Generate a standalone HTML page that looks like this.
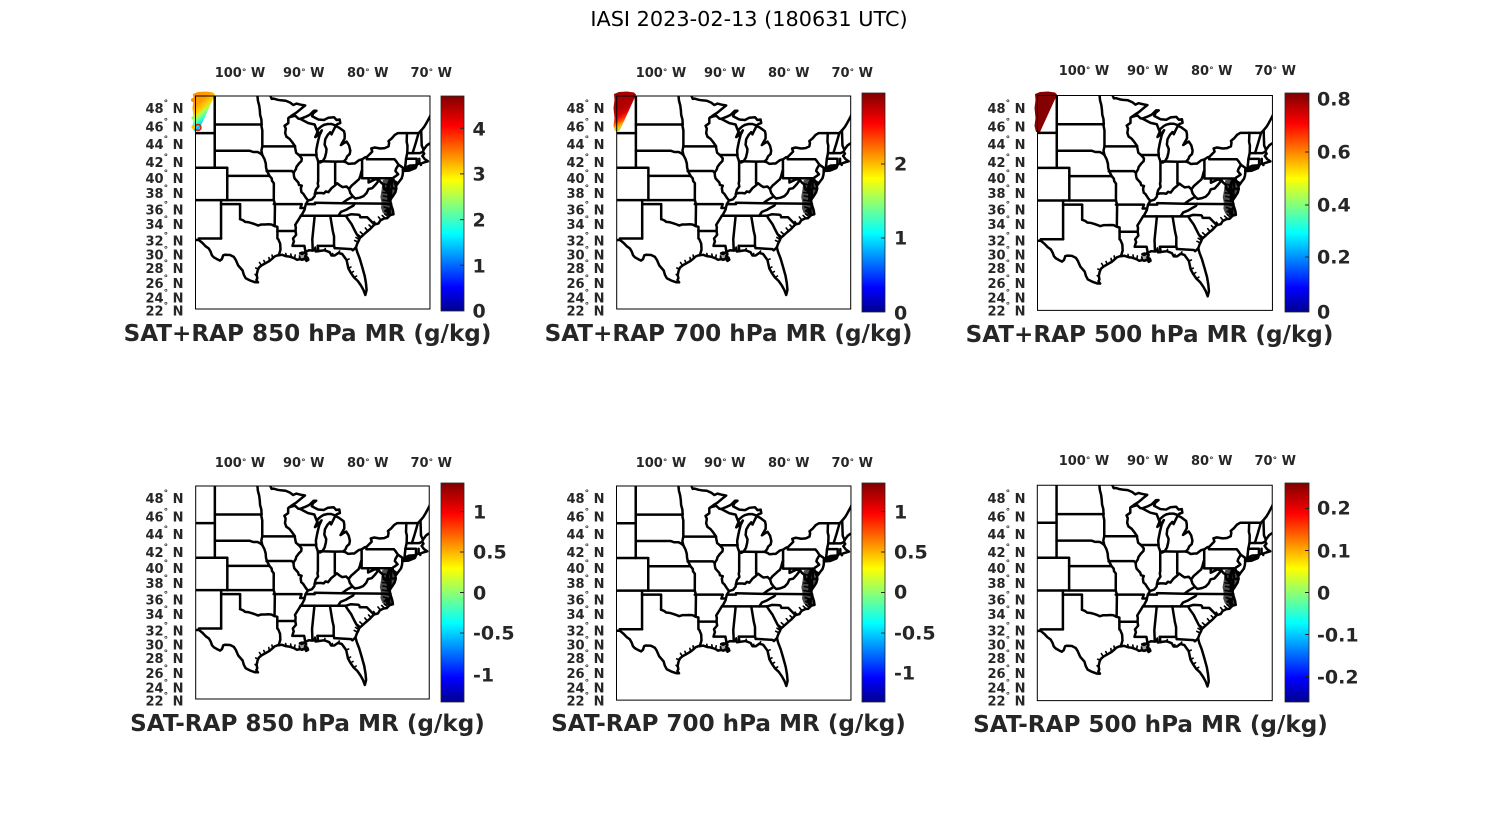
<!DOCTYPE html>
<html>
<head>
<meta charset="utf-8">
<style>
html,body{margin:0;padding:0;background:#fff;width:1500px;height:825px;overflow:hidden;}
svg{display:block;}
.t{font-family:"DejaVu Sans","Liberation Sans",sans-serif;font-weight:bold;font-size:13px;fill:#262626;}
.cb{font-family:"DejaVu Sans","Liberation Sans",sans-serif;font-weight:bold;font-size:19px;fill:#262626;}
.ttl{font-family:"DejaVu Sans","Liberation Sans",sans-serif;font-weight:bold;font-size:23.1px;fill:#262626;}
.main{font-family:"DejaVu Sans","Liberation Sans",sans-serif;font-size:20.8px;fill:#000;}
</style>
</head>
<body>
<svg width="1500" height="825" viewBox="0 0 1500 825" xmlns="http://www.w3.org/2000/svg" xmlns:xlink="http://www.w3.org/1999/xlink">
<defs>
<linearGradient id="jet" x1="0" y1="1" x2="0" y2="0">
<stop offset="0" stop-color="#00008f"/>
<stop offset="0.11" stop-color="#0000ff"/>
<stop offset="0.36" stop-color="#00ffff"/>
<stop offset="0.61" stop-color="#ffff00"/>
<stop offset="0.86" stop-color="#ff0000"/>
<stop offset="1" stop-color="#800000"/>
</linearGradient>
<linearGradient id="g1" x1="0" y1="0" x2="0.5" y2="1">
<stop offset="0" stop-color="#ff8c00"/>
<stop offset="0.35" stop-color="#ffa000"/>
<stop offset="0.5" stop-color="#ffd000"/>
<stop offset="0.6" stop-color="#b0ff50"/>
<stop offset="0.72" stop-color="#30ffd0"/>
<stop offset="0.84" stop-color="#00c8ff"/>
<stop offset="0.93" stop-color="#3080ff"/>
<stop offset="1" stop-color="#ffb000"/>
</linearGradient>
<linearGradient id="g2" x1="0" y1="0" x2="0.3" y2="1">
<stop offset="0" stop-color="#a00000"/>
<stop offset="0.45" stop-color="#b00000"/>
<stop offset="0.62" stop-color="#d80000"/>
<stop offset="0.74" stop-color="#ff3000"/>
<stop offset="0.86" stop-color="#ffb000"/>
<stop offset="1" stop-color="#a0ff40"/>
</linearGradient>
<clipPath id="mc"><rect x="0" y="0" width="234" height="213"/></clipPath>
<g id="map">
<g clip-path="url(#mc)">
<g transform="translate(669.5,0) scale(6.25,1)" fill="none" stroke="#000" stroke-width="2.5" stroke-linejoin="round" stroke-linecap="round">
<polygon vector-effect="non-scaling-stroke" stroke="none" fill="#000" fill-opacity="0.7" points="-77.2,84 -76.1,82.8 -75.5,86 -75.2,92 -75.5,99 -75.8,104 -76.0,108 -75.9,112 -75.6,114 -75.4,117.5 -76.2,120 -77.2,117 -77.5,112 -77.4,107 -77.6,101 -77.4,94 -77.3,88"/>
<polygon vector-effect="non-scaling-stroke" stroke="none" fill="#000" fill-opacity="0.35" points="-90.6,158 -89.8,155.5 -89.1,160 -89.2,165 -90,165 -90.8,164"/>
<path vector-effect="non-scaling-stroke" stroke-width="1.6" d="M-81.2,146L-81.7,144.5M-81,143.5L-81.5,141.5M-80.7,141L-81.2,138.5M-80.3,138.8L-80.8,136M-79.6,135L-80,132M-79,131.5L-79.4,129M-78.3,128.2L-78.6,125.5M-77.5,124L-77.9,121M-76.8,122.3L-77.3,119.5M-76.3,121L-76.9,118M-76,117L-76.9,115M-76,113L-77,111M-76.1,109L-77,108M-76.3,105L-77.2,104M-76.3,101L-77.1,100M-76.4,97L-77.2,96.5M-76.5,93L-77.1,91.5M-76.4,89L-76.9,88M-96.6,169.5L-96.9,166.5M-96,167.4L-96.2,164.5M-95.3,164.9L-95.4,161.5M-94.8,162.3L-94.9,159M-92.6,160.3L-92.7,157.5M-91.8,161.2L-91.9,158M-91.3,162.3L-91.2,159M-90.4,163.1L-90.5,160M-83,164L-82.6,163M-82.7,172.5L-82.3,171M-82.3,177L-81.9,175.5M-81.8,181.5L-81.4,180M-88.1,154.3L-88,151M-86.5,154.3L-86.4,152.5M-85.4,159.5L-85.2,157.5M-84.3,156.9L-84.1,155M-97.3,180L-97.6,178.5M-97.1,173L-97.5,172"/>
<polyline vector-effect="non-scaling-stroke" points="-104.05,0 -104.05,71.7"/>
<polyline vector-effect="non-scaling-stroke" points="-107.3,37.1 -104.05,37.1"/>
<polyline vector-effect="non-scaling-stroke" points="-107.3,71.7 -102.05,71.7 -102.05,104.1"/>
<polyline vector-effect="non-scaling-stroke" points="-102.05,79.9 -95.31,79.9"/>
<polyline vector-effect="non-scaling-stroke" points="-107.3,104.1 -94.62,104.1"/>
<polyline vector-effect="non-scaling-stroke" points="-103.04,104.1 -103.04,142.5"/>
<polyline vector-effect="non-scaling-stroke" points="-103.04,108.1 -100,108.1 -100,123.1"/>
<polyline vector-effect="non-scaling-stroke" points="-100,123.1 -99.5,124.4 -99.2,125.9 -98.6,126.3 -98,127.4 -97.5,128.5 -97.15,129.5 -96.6,128.5 -96,128.5 -95.5,128.3 -95,128.5 -94.48,130.1"/>
<polyline vector-effect="non-scaling-stroke" points="-94.62,104.1 -94.43,108.1 -94.48,130.1 -94.04,130.8 -94.04,142.5 -93.9,143.2 -93.6,147.7 -93.55,153.6 -93.7,156.9 -93.85,159.3"/>
<polyline vector-effect="non-scaling-stroke" points="-94.04,135 -91.15,135"/>
<polyline vector-effect="non-scaling-stroke" points="-107.3,144 -106.55,144 -106.6,142.5 -103.04,142.5"/>
<polyline vector-effect="non-scaling-stroke" points="-106.55,144.2 -106,147 -105.5,150.3 -105,152.5 -104.7,155.8 -104.5,159.3 -104.2,161.3 -103.7,163.1 -103.2,164.6 -102.9,163 -102.7,159.3 -102.4,158.7 -101.6,159 -101,160.9 -100.7,163.8 -100.3,169.5 -99.6,174.5 -99.4,178.8 -99.1,182.3 -98.4,184.5 -97.6,186.3 -97.15,186.3"/>
<polyline vector-effect="non-scaling-stroke" points="-97.15,186.3 -97.4,184 -97.25,182.3 -97.35,178.8 -97.2,174.5 -97,171.7 -96.6,169.5 -96,167.4 -95.3,164.9 -94.8,162.3 -94.5,160.5 -94,159.3 -93.85,159.3"/>
<polyline vector-effect="non-scaling-stroke" points="-93.85,159.3 -93.3,158.8 -92.6,160.3 -92.2,160.5 -91.8,161.2 -91.3,162.3 -90.9,163.8 -90.4,163.1 -90.1,163.8 -89.6,162.3 -89.4,164.9 -89.1,163.8 -89.2,162 -89.6,160.2 -89.4,158 -89.7,156.2 -89.55,156"/>
<polyline vector-effect="non-scaling-stroke" points="-90.4,157.3 -90.1,156.6 -89.8,157 -90.1,158 -90.4,157.3"/>
<polyline vector-effect="non-scaling-stroke" points="-89.55,156 -89.73,149.9 -91.63,149.9 -91.5,147 -91.4,145.5 -91.55,142.5 -91.05,138.8 -91.15,135"/>
<polyline vector-effect="non-scaling-stroke" points="-91.15,135 -91.1,131.2 -91.2,128.9 -90.9,125.9 -90.6,122.9 -90.3,119.8 -90.1,118.3 -89.7,113.6 -89.65,112 -89.5,108.1 -89.15,104.5 -89.5,101.7 -89.9,97.8 -90.2,96.2 -90.3,92.2 -90.15,89.7 -90.6,88.9 -90.7,86.5 -91.3,82.4 -91.4,79.9 -91.45,76.6 -91.1,73.3 -91,70.9 -90.6,67.5 -90.2,65 -90.15,62.4 -90.6,59 -91.05,56.8 -91.2,52.1 -91.25,50 -91.7,46 -92.1,42.9 -92.6,40.7 -92.8,37.1 -92.7,32.6 -92.9,29.8 -92.3,27.1 -92.3,22.1 -92.1,21.2"/>
<polyline vector-effect="non-scaling-stroke" points="-97.23,0 -97.15,4.75 -96.95,9.5 -96.85,14.2 -96.8,18.9 -96.6,23.5 -96.56,28.5 -96.6,29.8 -96.45,34.4 -96.45,50.4 -96.6,54.7 -96.45,59 -96.1,63.2 -95.9,67.5 -95.85,71.7 -95.7,75 -95.3,79.9 -94.95,82.4 -94.9,84.9 -94.61,87.3 -94.62,104.1"/>
<polyline vector-effect="non-scaling-stroke" points="-104.05,54.7 -98.5,54.7 -97.9,56 -97.2,56 -96.8,57.3 -96.45,59"/>
<polyline vector-effect="non-scaling-stroke" points="-104.05,28.5 -96.56,28.5"/>
<polyline vector-effect="non-scaling-stroke" points="-96.45,50.4 -91.22,50.4"/>
<polyline vector-effect="non-scaling-stroke" points="-95.77,75 -91.73,75 -91.42,76.8"/>
<polyline vector-effect="non-scaling-stroke" points="-90.64,59 -87.8,59"/>
<polyline vector-effect="non-scaling-stroke" points="-87.53,65.3 -87.53,85.3 -87.6,87.3 -87.5,90.5 -87.9,93.8 -88.05,97.8"/>
<polyline vector-effect="non-scaling-stroke" points="-89.15,104.5 -88.5,103.3 -88.1,100.2 -88.05,97.8 -87.6,97 -87,97 -86.6,97.4 -86.3,95.4 -85.9,96.2 -85.4,92.2 -84.9,89.7 -84.5,87.3 -84,89.7 -83.65,91.1 -83,90.5 -82.6,93 -82.2,89.7 -81.75,87.3 -81.4,85.3 -81,83.2 -80.8,79.9 -80.6,75 -80.52,74.7"/>
<polyline vector-effect="non-scaling-stroke" points="-84.82,65.75 -84.82,87.3"/>
<polyline vector-effect="non-scaling-stroke" points="-87.2,65.3 -84.82,65.6 -83.45,65.5"/>
<polyline vector-effect="non-scaling-stroke" points="-86.82,65.3 -87.2,66.5 -87.53,65.75 -87.6,64.1 -87.8,60.7 -87.8,59 -87.85,54.7 -87.7,49.5 -87.55,45.1 -87.3,38.9 -86.95,34.4 -87.4,38 -87.9,40.7 -88,41.1 -87.65,36.2 -87.6,33.5 -87,30.3 -86.6,28.9 -86,28 -85.4,28 -84.75,29.4 -84.4,28"/>
<polyline vector-effect="non-scaling-stroke" points="-86.82,65.3 -86.45,61.5 -86.25,56.4 -86.2,53 -86.5,48.6 -86.4,43.3 -86,38.9 -85.6,36.2 -85.4,38.4 -85.1,34.4 -84.75,30 -84.2,31.6 -83.4,35.3 -83.3,38.4 -83.3,42.5 -83.9,49.1 -83.4,47 -83,45.6 -82.6,49.5 -82.4,54.7 -82.5,58.1 -82.9,60.3 -83.1,63.2 -83.45,65.5"/>
<polyline vector-effect="non-scaling-stroke" points="-92.1,21.2 -91.2,19.7 -90.7,22.6 -90.4,22.9 -89.5,20.7 -88.9,18.9 -88.2,14.7 -87.8,14.7 -88.3,17.1 -88.5,20.3 -87.5,23.5 -86.6,24 -85.9,21.7 -85,21.2 -84.6,24 -84.1,23.5 -84,27.1 -84.4,28"/>
<polyline vector-effect="non-scaling-stroke" points="-90.4,22.9 -89.1,27.1 -88.1,28.5 -87.8,33.5 -87.6,36.2"/>
<polyline vector-effect="non-scaling-stroke" points="-95.15,0 -94.95,2.85 -94.6,2.66 -94,3.8 -93.5,4.3 -92.7,4.75 -92,6.65 -91.5,9 -91,7.6 -90.4,8.55 -89.6,9.5 -90,11.4 -91,16.6 -91.6,18.9 -92.1,21.2"/>
<polyline vector-effect="non-scaling-stroke" points="-83.45,65.5 -83,66.6 -82.7,67.9 -82,67.5 -81.7,67.5 -81,64.1 -80.52,63.4 -80,61.2 -79.76,61 -78.9,55.6 -79.05,52.5 -78.5,51.5 -77.6,52.5 -76.9,52.1 -76.3,50.4 -76.2,46.9 -76.3,45.1 -75.8,42.5 -75.3,38.9 -74.8,37.1 -71.5,37.1 -71.08,34.4 -70.6,30.8 -70.25,27.1 -69.7,20.7 -69.3,15"/>
<polyline vector-effect="non-scaling-stroke" points="-80.52,63.4 -80.52,82.2 -75.79,82.2"/>
<polyline vector-effect="non-scaling-stroke" points="-79.76,61 -79.76,63.2 -75.36,63.2"/>
<polyline vector-effect="non-scaling-stroke" points="-75.36,63.2 -75.1,65 -74.7,68.7 -75.1,72.9 -75.2,75 -74.75,78.3 -75.1,79.9 -75.5,81.5 -75.56,83.2"/>
<polyline vector-effect="non-scaling-stroke" points="-74.7,68.7 -74,71.7 -74,74.2 -74,76.2 -74.05,79.1 -74.2,82.4 -74.6,85.6 -74.95,88.7 -74.9,86.9 -75.4,84.9 -75.56,83.2"/>
<polyline vector-effect="non-scaling-stroke" points="-73.65,71.7 -73.5,62.8 -73.3,56.8 -73.27,49.5 -73.4,46 -73.35,37.1"/>
<polyline vector-effect="non-scaling-stroke" points="-74,75 -73,74.6 -72,72.1 -71.9,71.1 -72.6,71.8 -73.7,72.9 -74,74.2"/>
<polyline vector-effect="non-scaling-stroke" points="-73.3,57.1 -71.3,57.1 -70.8,55.8"/>
<polyline vector-effect="non-scaling-stroke" points="-73.5,62.8 -71.8,62.8 -71.8,69.6"/>
<polyline vector-effect="non-scaling-stroke" points="-71.38,62.8 -71.38,66.5 -71.12,68.9"/>
<polyline vector-effect="non-scaling-stroke" points="-72.45,57.1 -72.3,54 -72,48 -71.5,37.1"/>
<polyline vector-effect="non-scaling-stroke" points="-70.7,53.8 -71,49.5 -71.08,34.4"/>
<polyline vector-effect="non-scaling-stroke" points="-73.65,71.7 -72.9,69.6 -72,69.2 -71.4,67.5 -71.1,67.5 -70.7,66.6 -70,65.3 -70.5,63.2 -70.9,59.9 -70.6,57.7 -70.8,55.8 -70.7,53.8 -70.2,49.5 -69.8,47.7 -69.3,47"/>
<polyline vector-effect="non-scaling-stroke" points="-75.79,82.2 -75.79,92.5 -75.05,92.5"/>
<polyline vector-effect="non-scaling-stroke" points="-75.56,83.2 -75.4,85.6 -75.1,89.7 -75.05,92.5 -75.2,96.2 -75.6,100.2 -75.95,103.3"/>
<polyline vector-effect="non-scaling-stroke" points="-76,104.7 -76.3,104.1 -76.3,100.2 -76.3,96.2 -76.5,93 -76.4,88.9 -76.2,85.6 -76,83.6 -76.2,88.1 -76.3,92.2 -75.9,94.6 -75.9,98.6 -75.95,103.3"/>
<polyline vector-effect="non-scaling-stroke" points="-79.48,82.2 -79.48,86.5 -78.4,83.2 -77.8,84.1 -77.5,86.5 -77.1,88.5 -77,93 -76.3,96.2"/>
<polyline vector-effect="non-scaling-stroke" points="-77.8,84.1 -78.3,88.1 -78.9,92.2 -79.5,93 -79.8,97 -80.3,100.2 -80.9,101.7 -81.6,102.5 -82,100.4"/>
<polyline vector-effect="non-scaling-stroke" points="-82.6,93 -82.4,97 -82,100.4"/>
<polyline vector-effect="non-scaling-stroke" points="-82,100.4 -83,104.1 -83.68,107.3"/>
<polyline vector-effect="non-scaling-stroke" points="-75.87,107.7 -81.68,107.4 -83.68,107.3 -88.05,106.7 -88.05,108.1 -89.5,108.1"/>
<polyline vector-effect="non-scaling-stroke" points="-94.62,108.1 -90.15,108.1 -90.37,112 -89.7,112"/>
<polyline vector-effect="non-scaling-stroke" points="-90.3,119.8 -83.1,119.8"/>
<polyline vector-effect="non-scaling-stroke" points="-84.32,119.8 -83.9,115.9 -83.1,113.9 -82.6,112 -81.9,109.6 -81.68,107.4"/>
<polyline vector-effect="non-scaling-stroke" points="-83.1,119.8 -82.3,118.3 -81.05,118.7 -80.9,119.4 -80.8,121.3 -79.7,121.3 -78.55,128.5"/>
<polyline vector-effect="non-scaling-stroke" points="-83.1,119.8 -82.8,122.9 -82.2,128.1 -81.9,131.9 -81.4,138 -80.9,142.1"/>
<polyline vector-effect="non-scaling-stroke" points="-85.6,119.8 -85.2,135 -85,140.3 -85,149.9 -84.9,152.1"/>
<polyline vector-effect="non-scaling-stroke" points="-84.9,152.1 -82.2,153.1 -82,154.3 -81.5,151.4"/>
<polyline vector-effect="non-scaling-stroke" points="-88.2,119.8 -88.1,120.6 -88.47,143.2 -88.4,154.3"/>
<polyline vector-effect="non-scaling-stroke" points="-87.6,149.9 -85,149.9"/>
<polyline vector-effect="non-scaling-stroke" points="-87.6,149.9 -87.5,155.1"/>
<polyline vector-effect="non-scaling-stroke" points="-89.55,156 -89,154.3 -88.4,154.6 -88.1,154.3 -88,152.1 -87.9,155.5 -87.5,155.1 -86.5,154.3 -85.7,156.2 -85.4,159.5 -84.9,159.5 -84.3,156.9 -83.7,158 -83,164 -82.7,172.5 -82.3,177 -81.8,181.5 -81.2,185 -80.7,189.5 -80.3,194 -80,199 -79.8,194 -79.9,187.3 -80.1,180 -80.5,171 -80.9,162.5 -81.3,156 -81.5,151.4"/>
<polyline vector-effect="non-scaling-stroke" points="-81.5,151.4 -81.3,147.7 -81,144 -80.9,142.1 -80.5,139.9 -79.9,136.5 -79.2,132.8 -78.55,128.5 -77.9,127.4 -77.6,124.4 -77,122.5 -76.5,122.1 -76,119 -75.5,118.3 -75.6,114.3 -75.8,110.4 -75.95,107.7 -76,104.7"/>
<polyline vector-effect="non-scaling-stroke" points="-76,119 -76.4,117.5 -76.1,115 -76.6,114 -76,112.5 -75.9,110.5"/>
</g>
</g>
<rect x="0" y="0" width="234" height="213" fill="none" stroke="#000" stroke-width="1" vector-effect="non-scaling-stroke"/>
</g>
</defs>

<text class="main" x="749" y="26" text-anchor="middle">IASI 2023-02-13 (180631 UTC)</text>

<!-- data overlays -->
<polygon points="193,94 198,92 206,91.5 213,92.5 215,94.5 214,97 198.5,131 194,131 192.5,126 193.5,118 192.5,108 193.5,100" fill="url(#g1)"/>
<circle cx="198" cy="127.5" r="3" fill="none" stroke="#e02000" stroke-width="1.5"/>
<circle cx="193.5" cy="127" r="2" fill="#ffc000"/>
<circle cx="193" cy="100" r="2" fill="#ff9000"/>
<circle cx="193" cy="118" r="1.5" fill="#80ff60"/>
<polygon points="614,94 619,92 627,91.5 634,92.5 636,94.5 635,97 619.5,131 615,131 613.5,126 614.5,118 613.5,108 614.5,100" fill="url(#g2)"/>
<polygon points="1035,94 1040,92 1048,91.5 1055,92.5 1057,94.5 1056,97 1040,132 1036,132 1034.5,126 1035.5,118 1034.5,108 1035.5,100" fill="#850000"/>

<!-- maps -->
<use xlink:href="#map" href="#map" transform="translate(195.5,96) scale(1.002,1)"/>
<use xlink:href="#map" href="#map" transform="translate(616.7,96) scale(1,1)"/>
<use xlink:href="#map" href="#map" transform="translate(1037.5,95.5) scale(1.004,1.009)"/>
<use xlink:href="#map" href="#map" transform="translate(195.7,486) scale(0.998,1)"/>
<use xlink:href="#map" href="#map" transform="translate(616.5,486) scale(1.002,1.005)"/>
<use xlink:href="#map" href="#map" transform="translate(1037.3,485.3) scale(1.004,1.011)"/>

<!-- colorbars -->
<g stroke="#262626" stroke-width="0.8">
<rect x="441" y="96" width="23" height="215" fill="url(#jet)"/>
<rect x="862" y="93" width="23" height="219" fill="url(#jet)"/>
<rect x="1285" y="93" width="24" height="219" fill="url(#jet)"/>
<rect x="441" y="483" width="23" height="219" fill="url(#jet)"/>
<rect x="862" y="483" width="23" height="219" fill="url(#jet)"/>
<rect x="1285" y="483" width="24" height="219" fill="url(#jet)"/>
</g>
<g stroke="#262626" stroke-width="1">
<path d="M460,128.2H464M460,173.9H464M460,219.6H464M460,265.3H464"/>
<path d="M881,164H885M881,238H885"/>
<path d="M1305,257H1309M1305,205H1309M1305,152H1309M1305,99H1309"/>
<path d="M460,511.5H464M460,552H464M460,592.5H464M460,633H464M460,673.5H464"/>
<path d="M881,511.5H885M881,552H885M881,592.5H885M881,633H885M881,673.5H885"/>
<path d="M1305,508.5H1309M1305,550.5H1309M1305,592.5H1309M1305,634.5H1309M1305,676.5H1309"/>
</g>

<!-- colorbar labels -->
<text class="cb" x="472.5" y="135.5">4</text>
<text class="cb" x="472.5" y="180.5">3</text>
<text class="cb" x="472.5" y="226.5">2</text>
<text class="cb" x="472.5" y="272.5">1</text>
<text class="cb" x="472.5" y="317.5">0</text>

<text class="cb" x="894" y="170.5">2</text>
<text class="cb" x="894" y="244.5">1</text>
<text class="cb" x="894" y="319.5">0</text>

<text class="cb" x="1317" y="105.5">0.8</text>
<text class="cb" x="1317" y="158.5">0.6</text>
<text class="cb" x="1317" y="211.5">0.4</text>
<text class="cb" x="1317" y="263.5">0.2</text>
<text class="cb" x="1317" y="318.5">0</text>

<text class="cb" x="473" y="518.5">1</text>
<text class="cb" x="473" y="558.5">0.5</text>
<text class="cb" x="473" y="599.5">0</text>
<text class="cb" x="473" y="639.5">-0.5</text>
<text class="cb" x="473" y="681.5">-1</text>

<text class="cb" x="894" y="518.5">1</text>
<text class="cb" x="894" y="558.5">0.5</text>
<text class="cb" x="894" y="598.5">0</text>
<text class="cb" x="894" y="639.5">-0.5</text>
<text class="cb" x="894" y="679.5">-1</text>

<text class="cb" x="1317" y="514.5">0.2</text>
<text class="cb" x="1317" y="557.5">0.1</text>
<text class="cb" x="1317" y="599.5">0</text>
<text class="cb" x="1317" y="641.5">-0.1</text>
<text class="cb" x="1317" y="683.5">-0.2</text>

<!-- panel titles -->
<text class="ttl" x="307.5" y="341" text-anchor="middle">SAT+RAP 850 hPa MR (g/kg)</text>
<text class="ttl" x="728.5" y="341" text-anchor="middle">SAT+RAP 700 hPa MR (g/kg)</text>
<text class="ttl" x="1149.5" y="342" text-anchor="middle">SAT+RAP 500 hPa MR (g/kg)</text>
<text class="ttl" x="307.5" y="731" text-anchor="middle">SAT-RAP 850 hPa MR (g/kg)</text>
<text class="ttl" x="728.5" y="731" text-anchor="middle">SAT-RAP 700 hPa MR (g/kg)</text>
<text class="ttl" x="1150.5" y="732" text-anchor="middle">SAT-RAP 500 hPa MR (g/kg)</text>

<!-- top longitude labels -->
<text class="t" x="214.7" y="77">100<tspan dy="-2" font-size="9">°</tspan><tspan dy="2"> W</tspan></text>
<text class="t" x="283" y="77">90<tspan dy="-2" font-size="9">°</tspan><tspan dy="2"> W</tspan></text>
<text class="t" x="347" y="77">80<tspan dy="-2" font-size="9">°</tspan><tspan dy="2"> W</tspan></text>
<text class="t" x="410.5" y="77">70<tspan dy="-2" font-size="9">°</tspan><tspan dy="2"> W</tspan></text>

<text class="t" x="635.7" y="77">100<tspan dy="-2" font-size="9">°</tspan><tspan dy="2"> W</tspan></text>
<text class="t" x="704" y="77">90<tspan dy="-2" font-size="9">°</tspan><tspan dy="2"> W</tspan></text>
<text class="t" x="768" y="77">80<tspan dy="-2" font-size="9">°</tspan><tspan dy="2"> W</tspan></text>
<text class="t" x="831.5" y="77">70<tspan dy="-2" font-size="9">°</tspan><tspan dy="2"> W</tspan></text>

<text class="t" x="1058.7" y="75">100<tspan dy="-2" font-size="9">°</tspan><tspan dy="2"> W</tspan></text>
<text class="t" x="1127" y="75">90<tspan dy="-2" font-size="9">°</tspan><tspan dy="2"> W</tspan></text>
<text class="t" x="1191" y="75">80<tspan dy="-2" font-size="9">°</tspan><tspan dy="2"> W</tspan></text>
<text class="t" x="1254.5" y="75">70<tspan dy="-2" font-size="9">°</tspan><tspan dy="2"> W</tspan></text>

<text class="t" x="214.7" y="467">100<tspan dy="-2" font-size="9">°</tspan><tspan dy="2"> W</tspan></text>
<text class="t" x="283" y="467">90<tspan dy="-2" font-size="9">°</tspan><tspan dy="2"> W</tspan></text>
<text class="t" x="347" y="467">80<tspan dy="-2" font-size="9">°</tspan><tspan dy="2"> W</tspan></text>
<text class="t" x="410.5" y="467">70<tspan dy="-2" font-size="9">°</tspan><tspan dy="2"> W</tspan></text>

<text class="t" x="635.7" y="467">100<tspan dy="-2" font-size="9">°</tspan><tspan dy="2"> W</tspan></text>
<text class="t" x="704" y="467">90<tspan dy="-2" font-size="9">°</tspan><tspan dy="2"> W</tspan></text>
<text class="t" x="768" y="467">80<tspan dy="-2" font-size="9">°</tspan><tspan dy="2"> W</tspan></text>
<text class="t" x="831.5" y="467">70<tspan dy="-2" font-size="9">°</tspan><tspan dy="2"> W</tspan></text>

<text class="t" x="1058.7" y="465">100<tspan dy="-2" font-size="9">°</tspan><tspan dy="2"> W</tspan></text>
<text class="t" x="1127" y="465">90<tspan dy="-2" font-size="9">°</tspan><tspan dy="2"> W</tspan></text>
<text class="t" x="1191" y="465">80<tspan dy="-2" font-size="9">°</tspan><tspan dy="2"> W</tspan></text>
<text class="t" x="1254.5" y="465">70<tspan dy="-2" font-size="9">°</tspan><tspan dy="2"> W</tspan></text>

<!-- left latitude labels: panel 1 -->
<text class="t" x="145.5" y="113">48<tspan dy="-7" font-size="9">°</tspan><tspan dy="7"> N</tspan></text>
<text class="t" x="145.5" y="131.4">46<tspan dy="-7" font-size="9">°</tspan><tspan dy="7"> N</tspan></text>
<text class="t" x="145.5" y="149">44<tspan dy="-7" font-size="9">°</tspan><tspan dy="7"> N</tspan></text>
<text class="t" x="145.5" y="167">42<tspan dy="-7" font-size="9">°</tspan><tspan dy="7"> N</tspan></text>
<text class="t" x="145.5" y="183">40<tspan dy="-7" font-size="9">°</tspan><tspan dy="7"> N</tspan></text>
<text class="t" x="145.5" y="198">38<tspan dy="-7" font-size="9">°</tspan><tspan dy="7"> N</tspan></text>
<text class="t" x="145.5" y="214.7">36<tspan dy="-7" font-size="9">°</tspan><tspan dy="7"> N</tspan></text>
<text class="t" x="145.5" y="229">34<tspan dy="-7" font-size="9">°</tspan><tspan dy="7"> N</tspan></text>
<text class="t" x="145.5" y="245.7">32<tspan dy="-7" font-size="9">°</tspan><tspan dy="7"> N</tspan></text>
<text class="t" x="145.5" y="259.7">30<tspan dy="-7" font-size="9">°</tspan><tspan dy="7"> N</tspan></text>
<text class="t" x="145.5" y="273">28<tspan dy="-7" font-size="9">°</tspan><tspan dy="7"> N</tspan></text>
<text class="t" x="145.5" y="288">26<tspan dy="-7" font-size="9">°</tspan><tspan dy="7"> N</tspan></text>
<text class="t" x="145.5" y="302.4">24<tspan dy="-7" font-size="9">°</tspan><tspan dy="7"> N</tspan></text>
<text class="t" x="145.5" y="315.4">22<tspan dy="-7" font-size="9">°</tspan><tspan dy="7"> N</tspan></text>

<!-- panel 2 -->
<text class="t" x="566.5" y="113">48<tspan dy="-7" font-size="9">°</tspan><tspan dy="7"> N</tspan></text>
<text class="t" x="566.5" y="131.4">46<tspan dy="-7" font-size="9">°</tspan><tspan dy="7"> N</tspan></text>
<text class="t" x="566.5" y="149">44<tspan dy="-7" font-size="9">°</tspan><tspan dy="7"> N</tspan></text>
<text class="t" x="566.5" y="167">42<tspan dy="-7" font-size="9">°</tspan><tspan dy="7"> N</tspan></text>
<text class="t" x="566.5" y="183">40<tspan dy="-7" font-size="9">°</tspan><tspan dy="7"> N</tspan></text>
<text class="t" x="566.5" y="198">38<tspan dy="-7" font-size="9">°</tspan><tspan dy="7"> N</tspan></text>
<text class="t" x="566.5" y="214.7">36<tspan dy="-7" font-size="9">°</tspan><tspan dy="7"> N</tspan></text>
<text class="t" x="566.5" y="229">34<tspan dy="-7" font-size="9">°</tspan><tspan dy="7"> N</tspan></text>
<text class="t" x="566.5" y="245.7">32<tspan dy="-7" font-size="9">°</tspan><tspan dy="7"> N</tspan></text>
<text class="t" x="566.5" y="259.7">30<tspan dy="-7" font-size="9">°</tspan><tspan dy="7"> N</tspan></text>
<text class="t" x="566.5" y="273">28<tspan dy="-7" font-size="9">°</tspan><tspan dy="7"> N</tspan></text>
<text class="t" x="566.5" y="288">26<tspan dy="-7" font-size="9">°</tspan><tspan dy="7"> N</tspan></text>
<text class="t" x="566.5" y="302.4">24<tspan dy="-7" font-size="9">°</tspan><tspan dy="7"> N</tspan></text>
<text class="t" x="566.5" y="315.4">22<tspan dy="-7" font-size="9">°</tspan><tspan dy="7"> N</tspan></text>

<!-- panel 3 -->
<text class="t" x="987.5" y="113">48<tspan dy="-7" font-size="9">°</tspan><tspan dy="7"> N</tspan></text>
<text class="t" x="987.5" y="131.4">46<tspan dy="-7" font-size="9">°</tspan><tspan dy="7"> N</tspan></text>
<text class="t" x="987.5" y="149">44<tspan dy="-7" font-size="9">°</tspan><tspan dy="7"> N</tspan></text>
<text class="t" x="987.5" y="167">42<tspan dy="-7" font-size="9">°</tspan><tspan dy="7"> N</tspan></text>
<text class="t" x="987.5" y="183">40<tspan dy="-7" font-size="9">°</tspan><tspan dy="7"> N</tspan></text>
<text class="t" x="987.5" y="198">38<tspan dy="-7" font-size="9">°</tspan><tspan dy="7"> N</tspan></text>
<text class="t" x="987.5" y="214.7">36<tspan dy="-7" font-size="9">°</tspan><tspan dy="7"> N</tspan></text>
<text class="t" x="987.5" y="229">34<tspan dy="-7" font-size="9">°</tspan><tspan dy="7"> N</tspan></text>
<text class="t" x="987.5" y="245.7">32<tspan dy="-7" font-size="9">°</tspan><tspan dy="7"> N</tspan></text>
<text class="t" x="987.5" y="259.7">30<tspan dy="-7" font-size="9">°</tspan><tspan dy="7"> N</tspan></text>
<text class="t" x="987.5" y="273">28<tspan dy="-7" font-size="9">°</tspan><tspan dy="7"> N</tspan></text>
<text class="t" x="987.5" y="288">26<tspan dy="-7" font-size="9">°</tspan><tspan dy="7"> N</tspan></text>
<text class="t" x="987.5" y="302.4">24<tspan dy="-7" font-size="9">°</tspan><tspan dy="7"> N</tspan></text>
<text class="t" x="987.5" y="315.4">22<tspan dy="-7" font-size="9">°</tspan><tspan dy="7"> N</tspan></text>

<!-- panel 4 -->
<text class="t" x="145.5" y="503">48<tspan dy="-7" font-size="9">°</tspan><tspan dy="7"> N</tspan></text>
<text class="t" x="145.5" y="521.4">46<tspan dy="-7" font-size="9">°</tspan><tspan dy="7"> N</tspan></text>
<text class="t" x="145.5" y="539">44<tspan dy="-7" font-size="9">°</tspan><tspan dy="7"> N</tspan></text>
<text class="t" x="145.5" y="557">42<tspan dy="-7" font-size="9">°</tspan><tspan dy="7"> N</tspan></text>
<text class="t" x="145.5" y="573">40<tspan dy="-7" font-size="9">°</tspan><tspan dy="7"> N</tspan></text>
<text class="t" x="145.5" y="588">38<tspan dy="-7" font-size="9">°</tspan><tspan dy="7"> N</tspan></text>
<text class="t" x="145.5" y="604.7">36<tspan dy="-7" font-size="9">°</tspan><tspan dy="7"> N</tspan></text>
<text class="t" x="145.5" y="619">34<tspan dy="-7" font-size="9">°</tspan><tspan dy="7"> N</tspan></text>
<text class="t" x="145.5" y="635.7">32<tspan dy="-7" font-size="9">°</tspan><tspan dy="7"> N</tspan></text>
<text class="t" x="145.5" y="649.7">30<tspan dy="-7" font-size="9">°</tspan><tspan dy="7"> N</tspan></text>
<text class="t" x="145.5" y="663">28<tspan dy="-7" font-size="9">°</tspan><tspan dy="7"> N</tspan></text>
<text class="t" x="145.5" y="678">26<tspan dy="-7" font-size="9">°</tspan><tspan dy="7"> N</tspan></text>
<text class="t" x="145.5" y="692.4">24<tspan dy="-7" font-size="9">°</tspan><tspan dy="7"> N</tspan></text>
<text class="t" x="145.5" y="705.4">22<tspan dy="-7" font-size="9">°</tspan><tspan dy="7"> N</tspan></text>

<!-- panel 5 -->
<text class="t" x="566.5" y="503">48<tspan dy="-7" font-size="9">°</tspan><tspan dy="7"> N</tspan></text>
<text class="t" x="566.5" y="521.4">46<tspan dy="-7" font-size="9">°</tspan><tspan dy="7"> N</tspan></text>
<text class="t" x="566.5" y="539">44<tspan dy="-7" font-size="9">°</tspan><tspan dy="7"> N</tspan></text>
<text class="t" x="566.5" y="557">42<tspan dy="-7" font-size="9">°</tspan><tspan dy="7"> N</tspan></text>
<text class="t" x="566.5" y="573">40<tspan dy="-7" font-size="9">°</tspan><tspan dy="7"> N</tspan></text>
<text class="t" x="566.5" y="588">38<tspan dy="-7" font-size="9">°</tspan><tspan dy="7"> N</tspan></text>
<text class="t" x="566.5" y="604.7">36<tspan dy="-7" font-size="9">°</tspan><tspan dy="7"> N</tspan></text>
<text class="t" x="566.5" y="619">34<tspan dy="-7" font-size="9">°</tspan><tspan dy="7"> N</tspan></text>
<text class="t" x="566.5" y="635.7">32<tspan dy="-7" font-size="9">°</tspan><tspan dy="7"> N</tspan></text>
<text class="t" x="566.5" y="649.7">30<tspan dy="-7" font-size="9">°</tspan><tspan dy="7"> N</tspan></text>
<text class="t" x="566.5" y="663">28<tspan dy="-7" font-size="9">°</tspan><tspan dy="7"> N</tspan></text>
<text class="t" x="566.5" y="678">26<tspan dy="-7" font-size="9">°</tspan><tspan dy="7"> N</tspan></text>
<text class="t" x="566.5" y="692.4">24<tspan dy="-7" font-size="9">°</tspan><tspan dy="7"> N</tspan></text>
<text class="t" x="566.5" y="705.4">22<tspan dy="-7" font-size="9">°</tspan><tspan dy="7"> N</tspan></text>

<!-- panel 6 -->
<text class="t" x="987.5" y="503">48<tspan dy="-7" font-size="9">°</tspan><tspan dy="7"> N</tspan></text>
<text class="t" x="987.5" y="521.4">46<tspan dy="-7" font-size="9">°</tspan><tspan dy="7"> N</tspan></text>
<text class="t" x="987.5" y="539">44<tspan dy="-7" font-size="9">°</tspan><tspan dy="7"> N</tspan></text>
<text class="t" x="987.5" y="557">42<tspan dy="-7" font-size="9">°</tspan><tspan dy="7"> N</tspan></text>
<text class="t" x="987.5" y="573">40<tspan dy="-7" font-size="9">°</tspan><tspan dy="7"> N</tspan></text>
<text class="t" x="987.5" y="588">38<tspan dy="-7" font-size="9">°</tspan><tspan dy="7"> N</tspan></text>
<text class="t" x="987.5" y="604.7">36<tspan dy="-7" font-size="9">°</tspan><tspan dy="7"> N</tspan></text>
<text class="t" x="987.5" y="619">34<tspan dy="-7" font-size="9">°</tspan><tspan dy="7"> N</tspan></text>
<text class="t" x="987.5" y="635.7">32<tspan dy="-7" font-size="9">°</tspan><tspan dy="7"> N</tspan></text>
<text class="t" x="987.5" y="649.7">30<tspan dy="-7" font-size="9">°</tspan><tspan dy="7"> N</tspan></text>
<text class="t" x="987.5" y="663">28<tspan dy="-7" font-size="9">°</tspan><tspan dy="7"> N</tspan></text>
<text class="t" x="987.5" y="678">26<tspan dy="-7" font-size="9">°</tspan><tspan dy="7"> N</tspan></text>
<text class="t" x="987.5" y="692.4">24<tspan dy="-7" font-size="9">°</tspan><tspan dy="7"> N</tspan></text>
<text class="t" x="987.5" y="705.4">22<tspan dy="-7" font-size="9">°</tspan><tspan dy="7"> N</tspan></text>
</svg>
</body>
</html>
